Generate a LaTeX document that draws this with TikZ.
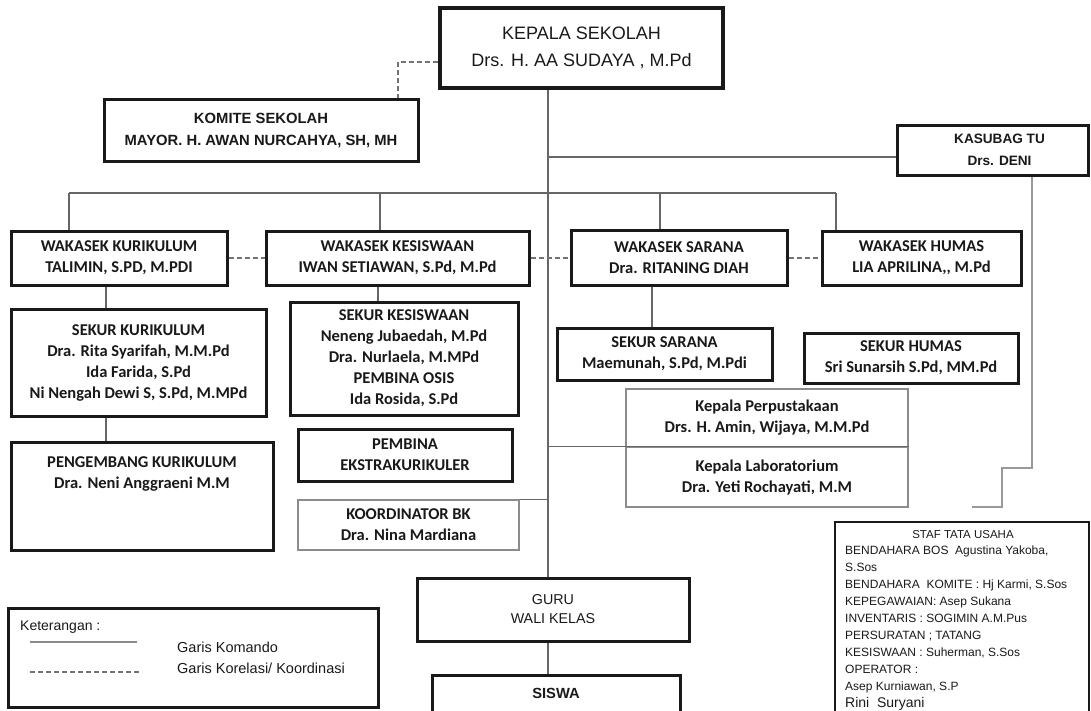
\documentclass[tikz,border=0pt]{standalone}
\usepackage{fontspec}
\setmainfont{Liberation Sans}
\newfontfamily\calfont{Carlito}
\begin{document}
\begin{tikzpicture}[x=1pt,y=-1pt,
  box/.style={draw=black!90, line width=3pt, inner sep=0pt, align=center, text=black!90},
  thinbox/.style={draw=black!45, line width=1.2pt, inner sep=0pt, align=center, text=black!90},
  cal/.style={font=\calfont\bfseries\fontsize{16.5}{21}\selectfont, text=black!90},
  cmd/.style={draw=black!60, line width=1.2pt},
  grl/.style={draw=black!40, line width=1.6pt},
  coordline/.style={draw=black!55, line width=1.2pt, dash pattern=on 5pt off 3pt},
]
\useasboundingbox (0,0) rectangle (1091,710);
\clip (0,0) rectangle (1091,710);

% top
\node[box, line width=4.5pt, font=\fontsize{18}{27}\selectfont, minimum width=283pt, minimum height=80pt] (kepala) at (581.5,48) {KEPALA SEKOLAH\\Drs. H. AA SUDAYA , M.Pd};
\node[box, font=\bfseries\fontsize{14.8}{22}\selectfont, minimum width=314pt, minimum height=62pt] (komite) at (261,130) {KOMITE SEKOLAH\\MAYOR. H. AWAN NURCAHYA, SH, MH};
\node[box, font=\bfseries\fontsize{13.6}{22}\selectfont, minimum width=191pt, minimum height=50pt] (kasubag) at (992.5,150) {\hspace*{14pt}KASUBAG TU\\\hspace*{14pt}Drs. DENI};

% wakasek
\node[box, cal, minimum width=216pt, minimum height=54pt] (wk) at (119,258) {WAKASEK KURIKULUM\\TALIMIN, S.PD, M.PDI};
\node[box, cal, minimum width=263pt, minimum height=54pt] (wks) at (397.5,258) {WAKASEK KESISWAAN\\IWAN SETIAWAN, S.Pd, M.Pd};
\node[box, cal, minimum width=216pt, minimum height=55pt] (wsa) at (679,258) {WAKASEK SARANA\\Dra. RITANING DIAH};
\node[box, cal, minimum width=199pt, minimum height=54pt] (wh) at (921.5,258) {WAKASEK HUMAS\\LIA APRILINA,, M.Pd};

% sekur
\node[box, cal, minimum width=255pt, minimum height=107pt] (sk) at (138.5,362.5) {SEKUR KURIKULUM\\Dra. Rita Syarifah, M.M.Pd\\Ida Farida, S.Pd\\Ni Nengah Dewi S, S.Pd, M.MPd};
\node[box, minimum width=262pt, minimum height=108pt] (pk) at (142,496) {};
\node[cal, align=center, anchor=north, inner sep=0pt] (pktxt) at (142,456) {PENGEMBANG KURIKULUM\\Dra. Neni Anggraeni M.M};
\node[box, cal, minimum width=228pt, minimum height=113pt] (sks) at (404,358.5) {SEKUR KESISWAAN\\Neneng Jubaedah, M.Pd\\Dra. Nurlaela, M.MPd\\PEMBINA OSIS\\Ida Rosida, S.Pd};
\node[box, cal, minimum width=214pt, minimum height=52pt] (pe) at (405,455) {PEMBINA\\EKSTRAKURIKULER};
\node[thinbox, cal, minimum width=221pt, minimum height=50pt] (bk) at (408.5,525) {KOORDINATOR BK\\Dra. Nina Mardiana};
\node[box, cal, minimum width=215pt, minimum height=52pt] (ss) at (664.5,354) {SEKUR SARANA\\Maemunah, S.Pd, M.Pdi};
\node[box, cal, minimum width=214pt, minimum height=50pt] (sh) at (911,358) {SEKUR HUMAS\\Sri Sunarsih S.Pd, MM.Pd};
\node[thinbox, cal, minimum width=282pt, minimum height=58pt] (perp) at (767,418) {Kepala Perpustakaan\\Drs. H. Amin, Wijaya, M.M.Pd};
\node[thinbox, cal, minimum width=282pt, minimum height=60pt] (lab) at (767,477) {Kepala Laboratorium\\Dra. Yeti Rochayati, M.M};

% bottom
\node[box, font=\fontsize{14.3}{19}\selectfont, minimum width=272pt, minimum height=63pt] (guru) at (553,609.5) {GURU\\WALI KELAS};
\node[box, font=\bfseries\fontsize{14.7}{18}\selectfont, minimum width=248pt, minimum height=37pt] (siswa) at (556,693.5) {SISWA};

% legend
\node[box, minimum width=370pt, minimum height=99pt] (legend) at (193,657.5) {};
\node[anchor=west, inner sep=0pt, font=\fontsize{14}{17}\selectfont, text=black!90] (ket) at (20,627) {Keterangan :};
\coordinate (ls1) at (30,642); \coordinate (ls2) at (137,642);
\coordinate (ld1) at (30,672); \coordinate (ld2) at (140,672);
\draw[cmd, draw=black!45] (ls1) -- (ls2);
\draw[coordline] (ld1) -- (ld2);
\node[anchor=west, inner sep=0pt, font=\fontsize{14.5}{17}\selectfont, text=black!90] (gk) at (177,647) {Garis Komando};
\node[anchor=west, inner sep=0pt, font=\fontsize{14.5}{17}\selectfont, text=black!90] (gko) at (177,668) {Garis Korelasi/ Koordinasi};

% staff
\node[draw=black!90, line width=2.5pt, inner sep=0pt, minimum width=254pt, minimum height=191pt] (staff) at (962,617.5) {};
\node[inner sep=0pt, font=\fontsize{11.5}{14}\selectfont, text=black!90] (stafft) at (963,535) {STAF TATA USAHA};
\node[anchor=north west, align=left, inner sep=0pt, font=\fontsize{12}{16.9}\selectfont, text=black!90] (stafftxt) at (845,546) {BENDAHARA BOS\ \ Agustina Yakoba,\\S.Sos\\BENDAHARA\ \ KOMITE : Hj Karmi, S.Sos\\KEPEGAWAIAN: Asep Sukana\\INVENTARIS : SOGIMIN A.M.Pus\\PERSURATAN ; TATANG\\KESISWAAN : Suherman, S.Sos\\OPERATOR :\\Asep Kurniawan, S.P\\{\fontsize{14}{16.9}\selectfont Rini\ \ Suryani}};

% connectors
\draw[cmd] (548,0 |- kepala.south) -- (548,0 |- guru.north);
\draw[cmd] (548,0 |- guru.south) -- (548,0 |- siswa.north);
\draw[coordline] (kepala.west |- 0,62) -- (398,62) -- (398,0 |- komite.north);
\coordinate (kt) at (548,157);
\draw[cmd] (kt) -- (kt -| kasubag.west);
\coordinate (bl) at (69,193); \coordinate (br) at (836,193);
\draw[cmd] (bl) -- (br);
\draw[cmd] (bl) -- (bl |- wk.north);
\draw[cmd] (380,193) -- (380,0 |- wks.north);
\draw[cmd] (660,193) -- (660,0 |- wsa.north);
\draw[cmd] (br) -- (br |- wh.north);
\draw[coordline] (wk.east) -- (wks.west);
\draw[coordline] (wks.east) -- (wsa.west);
\draw[coordline] (wsa.east) -- (wh.west);
\draw[cmd] (106,0 |- wk.south) -- (106,0 |- sk.north);
\draw[cmd] (106,0 |- sk.south) -- (106,0 |- pk.north);
\draw[cmd] (378,0 |- wks.south) -- (378,0 |- sks.north);
\draw[cmd] (652,0 |- wsa.south) -- (652,0 |- ss.north);
\draw[cmd] (548,0 |- lab.north) -- (lab.north east);
\draw[cmd] (548,0 |- bk.north) -- (bk.north east);
\coordinate (k2) at (1032,468); \coordinate (k3) at (1002,468);
\coordinate (k4) at (1002,507); \coordinate (k5) at (972,507);
\draw[grl] (kasubag.south -| k2) -- (k2) -- (k3) -- (k4) -- (k5);
\end{tikzpicture}
\end{document}
